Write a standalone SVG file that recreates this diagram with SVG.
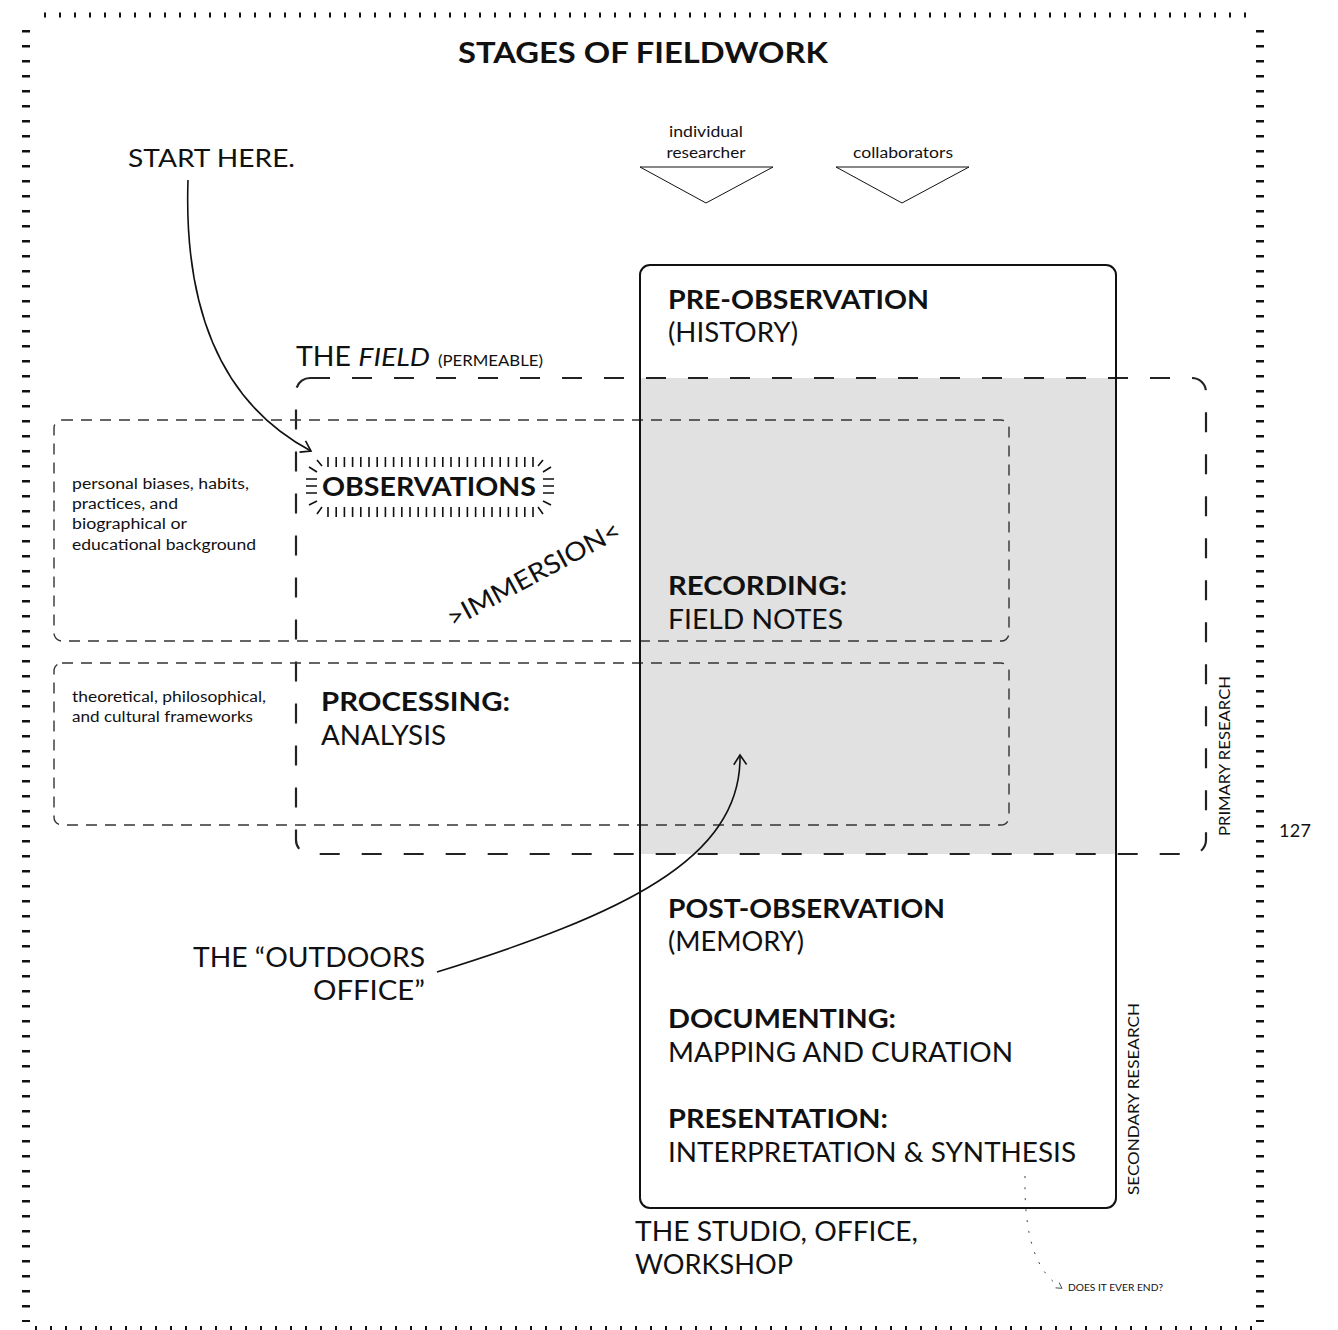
<svg xmlns="http://www.w3.org/2000/svg" width="1338" height="1330" viewBox="0 0 1338 1330">
<style>
text{font-family:Lato,"Liberation Sans",sans-serif;fill:#111}
.b{font-weight:bold;font-size:26px}
.r{font-size:26px}
.s{font-size:15.5px}
.thin{fill:none;stroke:#111;stroke-width:1}
.field{fill:none;stroke:#222;stroke-width:2.2;stroke-dasharray:20 22}
.inner{fill:none;stroke:#333;stroke-width:1.4;stroke-dasharray:11 8}
.arrow{fill:none;stroke:#111;stroke-width:1.6}
.tick{stroke:#111;stroke-width:1.6;fill:none}
</style>
<defs>
<marker id="ah" viewBox="0 0 20 20" refX="14" refY="10" markerWidth="16" markerHeight="16" markerUnits="userSpaceOnUse" orient="auto">
<path d="M2,2 L14,10 L2,18" fill="none" stroke="#111" stroke-width="2"/>
</marker>
<marker id="ah2" viewBox="0 0 10 10" refX="5" refY="5" markerWidth="8" markerHeight="8" markerUnits="userSpaceOnUse" orient="auto">
<path d="M1,1 L8,5 L1,9" fill="none" stroke="#333" stroke-width="1"/>
</marker>
</defs>
<rect width="1338" height="1330" fill="#fff"/>

<g id="frame" stroke="#111" fill="none">
<line x1="44" y1="15" x2="1252" y2="15" stroke-width="5" stroke-dasharray="2 13"/>
<line x1="35" y1="1328" x2="1252" y2="1328" stroke-width="4" stroke-dasharray="2 13"/>
<line x1="26" y1="30" x2="26" y2="1322" stroke-width="8" stroke-dasharray="2.5 12.5"/>
<line x1="1260" y1="30" x2="1260" y2="1322" stroke-width="8" stroke-dasharray="2.5 12.5"/>
</g>

<text x="643" y="63" text-anchor="middle" font-weight="bold" font-size="29" textLength="370" lengthAdjust="spacingAndGlyphs">STAGES OF FIELDWORK</text>

<g id="gray-zone"><rect x="640" y="378" width="476" height="476" fill="#e1e1e1"/></g>

<g id="field">
<rect class="field" x="296" y="378" width="910" height="476" rx="14"/>
<text x="296" y="366" class="r" textLength="134" lengthAdjust="spacingAndGlyphs">THE <tspan font-style="italic">FIELD</tspan></text>
<text x="438" y="366" font-size="15" textLength="105" lengthAdjust="spacingAndGlyphs">(PERMEABLE)</text>
<text transform="translate(1230,836) rotate(-90)" class="s" textLength="160" lengthAdjust="spacingAndGlyphs">PRIMARY RESEARCH</text>
</g>

<g id="biases-box">
<rect class="inner" x="54" y="420" width="955" height="221" rx="8"/>
<text class="s"><tspan x="72" y="489" textLength="177" lengthAdjust="spacingAndGlyphs">personal biases, habits,</tspan><tspan x="72" y="509" textLength="106" lengthAdjust="spacingAndGlyphs">practices, and</tspan><tspan x="72" y="529" textLength="115" lengthAdjust="spacingAndGlyphs">biographical or</tspan><tspan x="72" y="550" textLength="184" lengthAdjust="spacingAndGlyphs">educational background</tspan></text>
</g>

<g id="frameworks-box">
<rect class="inner" x="54" y="663" width="955" height="162" rx="8"/>
<text class="s"><tspan x="72" y="702" textLength="194" lengthAdjust="spacingAndGlyphs">theoretical, philosophical,</tspan><tspan x="72" y="722" textLength="181" lengthAdjust="spacingAndGlyphs">and cultural frameworks</tspan></text>
</g>

<g id="main-box">
<rect x="640" y="265" width="476" height="943" rx="10" fill="none" stroke="#111" stroke-width="2"/>
<text transform="translate(1139,1195) rotate(-90)" class="s" textLength="192" lengthAdjust="spacingAndGlyphs">SECONDARY RESEARCH</text>
</g>

<g id="pre-observation">
<text x="668" y="309" class="b" textLength="261" lengthAdjust="spacingAndGlyphs">PRE-OBSERVATION</text>
<text x="668" y="342" class="r" textLength="130" lengthAdjust="spacingAndGlyphs">(HISTORY)</text>
</g>

<g id="observations">
<text x="322" y="496" class="b" textLength="214" lengthAdjust="spacingAndGlyphs">OBSERVATIONS</text>
<g class="tick">
<path d="M328,457v10M336.2,457v10M344.4,457v10M352.6,457v10M360.8,457v10M369,457v10M377.2,457v10M385.4,457v10M393.6,457v10M401.8,457v10M410,457v10M418.2,457v10M426.4,457v10M434.6,457v10M442.8,457v10M451,457v10M459.2,457v10M467.4,457v10M475.6,457v10M483.8,457v10M492,457v10M500.2,457v10M508.4,457v10M516.6,457v10M524.8,457v10M533,457v10"/>
<path d="M328,507v10M336.2,507v10M344.4,507v10M352.6,507v10M360.8,507v10M369,507v10M377.2,507v10M385.4,507v10M393.6,507v10M401.8,507v10M410,507v10M418.2,507v10M426.4,507v10M434.6,507v10M442.8,507v10M451,507v10M459.2,507v10M467.4,507v10M475.6,507v10M483.8,507v10M492,507v10M500.2,507v10M508.4,507v10M516.6,507v10M524.8,507v10M533,507v10"/>
<path d="M306,479h11M306,486h11M306,493h11M309,467l8,5M317,460l5,6M309,505l8,-4M317,514l5,-7"/>
<path d="M543,479h11M543,486h11M543,493h11M551,467l-8,5M543,460l-5,6M551,505l-8,-4M543,514l-5,-7"/>
</g>
</g>

<g id="immersion">
<text transform="translate(453,628) rotate(-28.4)" font-size="26" textLength="193" lengthAdjust="spacingAndGlyphs">&gt;IMMERSION&lt;</text>
</g>

<g id="recording">
<text x="668" y="595" class="b" textLength="179" lengthAdjust="spacingAndGlyphs">RECORDING:</text>
<text x="668" y="629" class="r" textLength="175" lengthAdjust="spacingAndGlyphs">FIELD NOTES</text>
</g>

<g id="processing">
<text x="321" y="711" class="b" textLength="189" lengthAdjust="spacingAndGlyphs">PROCESSING:</text>
<text x="321" y="745" class="r" textLength="125" lengthAdjust="spacingAndGlyphs">ANALYSIS</text>
</g>

<g id="post-observation">
<text x="668" y="918" class="b" textLength="277" lengthAdjust="spacingAndGlyphs">POST-OBSERVATION</text>
<text x="668" y="951" class="r" textLength="136" lengthAdjust="spacingAndGlyphs">(MEMORY)</text>
</g>

<g id="documenting">
<text x="668" y="1028" class="b" textLength="228" lengthAdjust="spacingAndGlyphs">DOCUMENTING:</text>
<text x="668" y="1062" class="r" textLength="345" lengthAdjust="spacingAndGlyphs">MAPPING AND CURATION</text>
</g>

<g id="presentation">
<text x="668" y="1128" class="b" textLength="220" lengthAdjust="spacingAndGlyphs">PRESENTATION:</text>
<text x="668" y="1162" class="r" textLength="408" lengthAdjust="spacingAndGlyphs">INTERPRETATION &amp; SYNTHESIS</text>
</g>

<g id="studio">
<text x="635" y="1241" class="r" textLength="283" lengthAdjust="spacingAndGlyphs">THE STUDIO, OFFICE,</text>
<text x="635" y="1274" class="r" textLength="158" lengthAdjust="spacingAndGlyphs">WORKSHOP</text>
</g>

<g id="start-here">
<text x="128" y="167" font-size="25" textLength="167" lengthAdjust="spacingAndGlyphs">START HERE.</text>
</g>

<g id="outdoors-office">
<text x="425" y="967" text-anchor="end" class="r" textLength="232" lengthAdjust="spacingAndGlyphs">THE “OUTDOORS</text>
<text x="425" y="1000" text-anchor="end" class="r" textLength="112" lengthAdjust="spacingAndGlyphs">OFFICE”</text>
</g>

<g id="individual-researcher">
<text x="706" y="137" text-anchor="middle" class="s" textLength="74" lengthAdjust="spacingAndGlyphs">individual</text>
<text x="706" y="158" text-anchor="middle" class="s" textLength="79" lengthAdjust="spacingAndGlyphs">researcher</text>
<path class="thin" d="M640,167 H773 L706,203 Z"/>
</g>

<g id="collaborators">
<text x="903" y="158" text-anchor="middle" class="s" textLength="100" lengthAdjust="spacingAndGlyphs">collaborators</text>
<path class="thin" d="M836,167 H969 L902,203 Z"/>
</g>

<g id="does-it-end">
<text x="1068" y="1291" font-size="9.5" textLength="95" lengthAdjust="spacingAndGlyphs">DOES IT EVER END?</text>
</g>

<g id="connectors">
<path class="arrow" d="M188,180 C184,300 215,400 311,451" marker-end="url(#ah)"/>
<path class="arrow" d="M437,972 C620,915 742,860 740,755" marker-end="url(#ah)"/>
<path d="M1025,1176 C1024,1235 1035,1270 1060,1287" fill="none" stroke="#444" stroke-width="1" stroke-dasharray="2 9" marker-end="url(#ah2)"/>
</g>

<text x="1279" y="837" font-size="18" font-family="'Liberation Sans',sans-serif" textLength="32">127</text>
</svg>
